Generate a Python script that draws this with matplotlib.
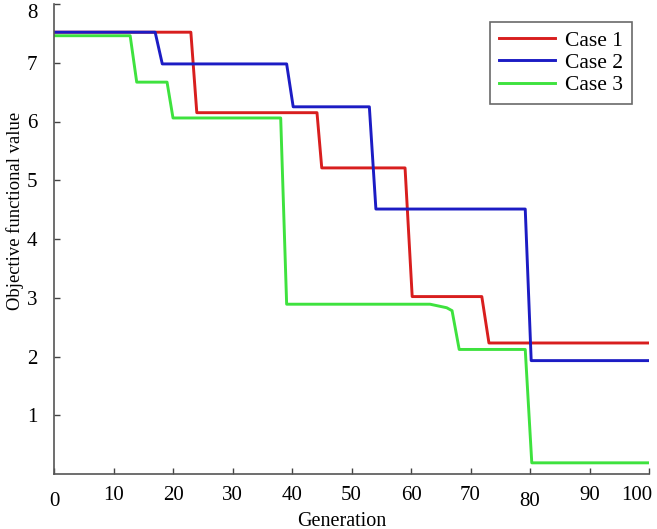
import matplotlib
matplotlib.use("Agg")
import matplotlib.pyplot as plt
from matplotlib.transforms import ScaledTranslation

plt.rcParams['font.family'] = ['Liberation Serif', 'DejaVu Serif']

# Data: breakpoints of each curve (generation, objective value)
case1_x = [0, 23.0, 24.0, 44.2, 45.0, 59.0, 60.2, 71.9, 73.1, 100]
case1_y = [7.52, 7.52, 6.15, 6.15, 5.21, 5.21, 3.02, 3.02, 2.23, 2.23]

case2_x = [0, 17.0, 18.2, 39.1, 40.2, 53.0, 54.1, 79.2, 80.2, 100]
case2_y = [7.52, 7.52, 6.98, 6.98, 6.25, 6.25, 4.51, 4.51, 1.93, 1.93]

case3_x = [0, 12.8, 13.9, 19.0, 20.0, 38.1, 39.1, 63.2, 66.0, 66.9, 68.1, 79.2, 80.3, 100]
case3_y = [7.46, 7.46, 6.67, 6.67, 6.06, 6.06, 2.89, 2.89, 2.83, 2.78, 2.12, 2.12, 0.19, 0.19]

x_ticks = [0, 10, 20, 30, 40, 50, 60, 70, 80, 90, 100]
y_ticks = [1, 2, 3, 4, 5, 6, 7, 8]

fig = plt.figure(figsize=(6.57, 5.29), dpi=100)
ax = fig.add_axes([54/657, 55/529, (649-54)/657, (474-4)/529])

ax.plot(case1_x, case1_y, color='#d81e1e', lw=2.1, label='Case 1')
ax.plot(case2_x, case2_y, color='#1c1cc4', lw=2.1, label='Case 2')
ax.plot(case3_x, case3_y, color='#3ee23e', lw=2.1, label='Case 3')

ax.set_xlim(0, 100)
ax.set_ylim(0, 8)
ax.set_xticks(x_ticks)
ax.set_yticks(y_ticks)
ax.tick_params(direction='in', length=4, width=1, labelsize=15, color='#444444')
ax.tick_params(axis='x', pad=9)
ax.tick_params(axis='y', pad=12)
for s in ['top', 'right']:
    ax.spines[s].set_visible(False)
for s in ['left', 'bottom']:
    ax.spines[s].set_color('#555555')
    ax.spines[s].set_linewidth(1.2)

fig.text(342/657, 1 - 521/529, 'Generation', fontsize=14.5, ha='center', va='center')
fig.text(15/657, 1 - 211/529, 'Objective functional value', fontsize=13.4,
         rotation=90, ha='center', va='center')

leg = ax.legend(loc='upper right', bbox_to_anchor=(632/657, 1 - 22/529), bbox_transform=fig.transFigure,
                fontsize=15.5, frameon=True, fancybox=False, edgecolor='#444444',
                handlelength=2.6, handletextpad=0.5, labelspacing=0.1, borderpad=0.4, borderaxespad=0)
leg.get_frame().set_linewidth(1.2)

# small label offsets as in the reference
fig.canvas.draw()
offsets = {'0': (0, -6), '80': (0, -6), '100': (-12, 0)}
for lab in ax.get_xticklabels():
    t = lab.get_text()
    if t in offsets:
        dx, dy = offsets[t]
        lab.set_transform(lab.get_transform() + ScaledTranslation(dx/100, dy/100, fig.dpi_scale_trans))
for lab in ax.get_yticklabels():
    if lab.get_text() == '8':
        lab.set_transform(lab.get_transform() + ScaledTranslation(0, -7/100, fig.dpi_scale_trans))

fig.savefig('out.png', dpi=100)
